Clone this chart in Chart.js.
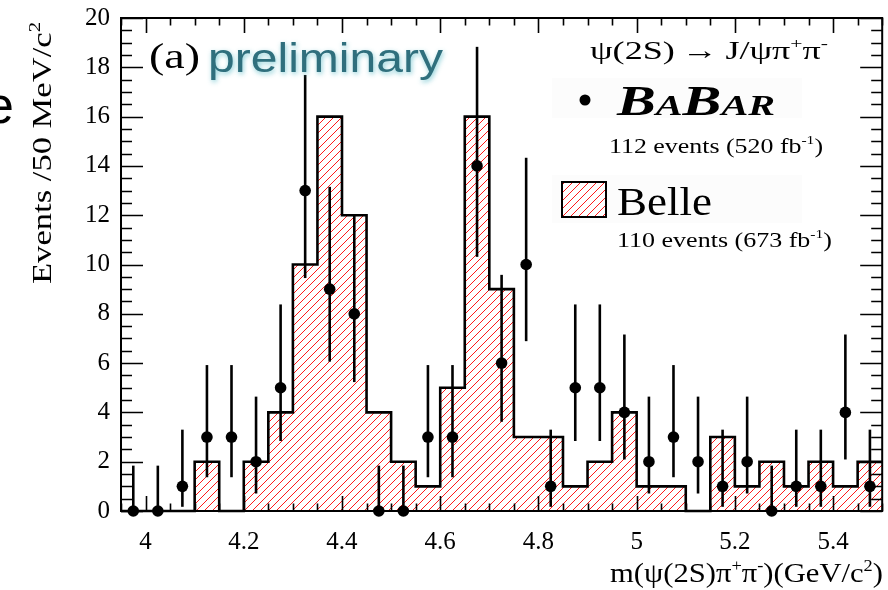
<!DOCTYPE html>
<html><head><meta charset="utf-8">
<script src="https://cdn.jsdelivr.net/npm/chart.js@4.4.1/dist/chart.umd.min.js"></script>
<style>html,body{margin:0;padding:0;background:#fff;}#c{display:block;}</style>
</head><body>
<canvas id="c" width="888" height="590"></canvas>
<script>
// ---- data ----
const binCenters = [3.975,4.025,4.075,4.125,4.175,4.225,4.275,4.325,4.375,4.425,4.475,4.525,4.575,4.625,4.675,4.725,4.775,4.825,4.875,4.925,4.975,5.025,5.075,5.125,5.175,5.225,5.275,5.325,5.375,5.425,5.475];
const binWidth = 0.05;
const belleCounts = [0,0,0,2,0,2,4,10,16,12,4,2,1,5,16,9,3,3,1,2,4,1,1,0,3,1,2,1,2,1,2];
const babarCounts = [0,0,1,3,3,2,5,13,9,8,0,0,3,3,14,6,10,1,5,5,4,2,3,2,1,2,0,1,1,4,1];
const babarErrLow = [0,0,0.17,1.37,1.37,0.71,2.84,9.45,6.06,5.23,0,0,1.37,1.37,10.31,3.62,6.89,0.17,2.84,2.84,2.09,0.71,1.37,0.71,0.17,0.71,0,0.17,0.17,2.09,0.17];
const babarErrHigh = [1.84,1.84,3.30,5.92,5.92,4.64,8.38,17.69,13.15,11.98,1.84,1.84,5.92,5.92,18.83,9.58,14.33,3.30,8.38,8.38,7.16,4.64,5.92,4.64,3.30,4.64,1.84,3.30,3.30,7.16,3.30];
const xTickValues = [4,4.2,4.4,4.6,4.8,5,5.2,5.4];
const xTickLabels = ['4','4.2','4.4','4.6','4.8','5','5.2','5.4'];
const yTickValues = [0,2,4,6,8,10,12,14,16,18,20];
const yTickLabels = ['0','2','4','6','8','10','12','14','16','18','20'];
const xRange = [3.95, 5.5];
const yRange = [0, 20];

const SERIF = '"Liberation Serif","Times New Roman",serif';
const SANS = '"Liberation Sans",Arial,sans-serif';
const HATCH_RED = '#ff1a1a';
const LEGEND_BOX = [562, 182, 44, 35];

const histPoints = binCenters.map((c,i)=>({x:c-binWidth/2, y:belleCounts[i]}));
histPoints.push({x:binCenters[binCenters.length-1]+binWidth/2, y:belleCounts[belleCounts.length-1]});
const babarPoints = binCenters.map((c,i)=>({x:c, y:babarCounts[i]}));

// diagonal red hatching inside the current clip, over a box
function hatchLines(ctx, x0, y0, x1, y1){
  const sp = 8;
  ctx.save();
  ctx.strokeStyle = HATCH_RED; ctx.lineWidth = 1;
  ctx.beginPath();
  const h = y1 - y0;
  for (let s = x0 - h - sp; s < x1 + sp; s += sp) {
    ctx.moveTo(s, y1); ctx.lineTo(s + h, y0);
  }
  ctx.stroke();
  ctx.restore();
}

// rich text: parts [[text, 'n'|'s', size?, family?], ...]
function drawRich(ctx, parts, x, y, size, style, targetW, align){
  const meas = p => { ctx.font = style + ' ' + (p[1]==='s'? size*0.6 : (p[2]||size)) + 'px ' + (p[3]||SERIF); return ctx.measureText(p[0]).width; };
  let w = 0; parts.forEach(p=> w += meas(p));
  const sx = targetW ? targetW / w : 1;
  ctx.save();
  let x0 = align==='right' ? x - w*sx : x;
  ctx.translate(x0, y); ctx.scale(sx, 1);
  let cx = 0;
  parts.forEach(p=>{
    const fs = p[1]==='s'? size*0.6 : (p[2]||size);
    ctx.font = style + ' ' + fs + 'px ' + (p[3]||SERIF);
    ctx.textAlign='left'; ctx.textBaseline='alphabetic';
    ctx.fillText(p[0], cx, p[1]==='s'? -size*0.42 : 0);
    cx += ctx.measureText(p[0]).width;
  });
  ctx.restore();
}

const frameTicks = {
  id:'frameTicks',
  beforeDatasetsDraw(chart){
    const ctx = chart.ctx;
    ctx.save();
    ctx.fillStyle = '#fcfcfc';
    ctx.fillRect(552, 78, 250, 40);
    ctx.fillRect(552, 175, 250, 48);
    ctx.fillStyle = '#fff';
    ctx.fillRect(LEGEND_BOX[0], LEGEND_BOX[1], LEGEND_BOX[2], LEGEND_BOX[3]);
    ctx.restore();
  },
  beforeDatasetDraw(chart, args){
    const {ctx, chartArea:a, scales:{x,y}} = chart;
    if (args.index === 0) {
      // hatch fill of the Belle histogram (bin by bin from the scales) and of its legend box
      ctx.save();
      ctx.beginPath();
      binCenters.forEach((c,i)=>{
        if (belleCounts[i] <= 0) return;
        const xl = x.getPixelForValue(c - binWidth/2), xr = x.getPixelForValue(c + binWidth/2);
        const yt = y.getPixelForValue(belleCounts[i]), yb = y.getPixelForValue(0);
        ctx.rect(xl, yt, xr - xl, yb - yt);
      });
      ctx.rect(LEGEND_BOX[0], LEGEND_BOX[1], LEGEND_BOX[2], LEGEND_BOX[3]);
      ctx.clip();
      hatchLines(ctx, a.left, a.top, a.right, a.bottom);
      ctx.restore();
      return;
    }
    if (args.index !== 1) return;
    ctx.save(); ctx.strokeStyle='#000'; ctx.lineWidth=2.6;
    binCenters.forEach((c,i)=>{
      const px = x.getPixelForValue(c);
      ctx.beginPath();
      ctx.moveTo(px, y.getPixelForValue(babarErrLow[i]));
      ctx.lineTo(px, y.getPixelForValue(babarErrHigh[i]));
      ctx.stroke();
    });
    ctx.restore();
  },
  afterDatasetsDraw(chart){
    const {ctx, chartArea:a, scales:{x,y}} = chart;
    ctx.save(); ctx.strokeStyle='#000';
    ctx.lineWidth = 1.6;
    ctx.beginPath();
    for (let v = 3.95; v <= 5.5001; v += 0.05){
      const px = Math.round(x.getPixelForValue(v))+0.5;
      const major = xTickValues.some(t=>Math.abs(t-v)<1e-6);
      const L = major ? 15 : 7.5;
      ctx.moveTo(px, a.bottom); ctx.lineTo(px, a.bottom-L);
      ctx.moveTo(px, a.top); ctx.lineTo(px, a.top+L);
    }
    for (let v = 0; v <= 20.001; v += 0.5){
      const py = Math.round(y.getPixelForValue(v))+0.5;
      const major = yTickValues.some(t=>Math.abs(t-v)<1e-6);
      const L = major ? 22 : 11;
      ctx.moveTo(a.left, py); ctx.lineTo(a.left+L, py);
      ctx.moveTo(a.right, py); ctx.lineTo(a.right-L, py);
    }
    ctx.stroke();
    ctx.lineWidth = 2;
    ctx.strokeRect(a.left, a.top, a.right-a.left, a.bottom-a.top);
    ctx.restore();
  },
  afterDraw(chart){
    const ctx = chart.ctx;
    ctx.save();
    ctx.fillStyle = '#000';
    // cut-off letter at the left edge
    ctx.font = '52px ' + SANS; ctx.textBaseline='alphabetic'; ctx.textAlign='left';
    ctx.fillText('e', -15, 123);
    // axis titles
    ctx.save();
    ctx.translate(51, 22); ctx.rotate(-Math.PI/2);
    drawRich(ctx, [['Events /50 MeV/c','n'],['2','s']], 0, 0, 27, '', 262, 'right');
    ctx.restore();
    drawRich(ctx, [['m(\u03C8(2S)\u03C0','n'],['+','s'],['\u03C0','n'],['-','s'],[')(GeV/c','n'],['2','s'],[')','n']], 883, 582, 27, '', 273, 'right');
    // (a) preliminary
    drawRich(ctx, [['(a)','n']], 149, 68, 36, '', 51);
    ctx.save();
    ctx.shadowColor = 'rgba(120,200,210,0.9)'; ctx.shadowBlur = 5; ctx.shadowOffsetX = 1; ctx.shadowOffsetY = 2;
    ctx.fillStyle = '#2f6f7d';
    drawRich(ctx, [['preliminary','n',41,SANS]], 208, 72, 41, '', 235);
    ctx.restore();
    // legend texts
    ctx.fillStyle = '#000';
    drawRich(ctx, [['\u03C8(2S)\u2009\u2192\u2009J/\u03C8\u03C0','n'],['+','s'],['\u03C0','n'],['-','s']], 590, 59, 26, '', 238);
    ctx.beginPath(); ctx.arc(585, 100, 5.5, 0, Math.PI*2); ctx.fill();
    drawRich(ctx, [['B','n',42],['A','n',29],['B','n',42],['AR','n',29]], 617, 115, 42, 'italic bold', 158);
    drawRich(ctx, [['112 events (520 fb','n'],['-1','s'],[')','n']], 609, 153, 22, '', 214);
    ctx.lineWidth = 2; ctx.strokeStyle='#000';
    ctx.strokeRect(LEGEND_BOX[0], LEGEND_BOX[1], LEGEND_BOX[2], LEGEND_BOX[3]);
    drawRich(ctx, [['Belle','n']], 617, 215, 40, '', 95);
    drawRich(ctx, [['110 events (673 fb','n'],['-1','s'],[')','n']], 617, 247, 22, '', 215);
    ctx.restore();
  }
};

new Chart(document.getElementById('c'), {
  type: 'scatter',
  data: { datasets: [
    { type:'line', label:'Belle', data: histPoints, stepped:'before', borderColor:'#000', borderWidth:2.6,
      backgroundColor:'rgba(0,0,0,0)', fill:false, pointRadius:0, order:2, clip:4 },
    { type:'scatter', label:'BaBar', data: babarPoints, pointRadius:5.8, pointHoverRadius:5.8,
      backgroundColor:'#000', borderColor:'#000', borderWidth:0, order:1, clip:8 }
  ]},
  options: {
    responsive:false, animation:false, devicePixelRatio:1,
    layout:{ padding:{ left:0, right:5, top:18, bottom:0 } },
    plugins:{ legend:{display:false}, tooltip:{enabled:false} },
    events: [],
    scales:{
      x:{ type:'linear', min:xRange[0], max:xRange[1],
        grid:{display:false}, border:{display:false},
        afterFit: s => { s.height = 79; },
        afterBuildTicks: s => { s.ticks = xTickValues.map(v=>({value:v})); },
        ticks:{ autoSkip:false, maxRotation:0, padding:8, color:'#000',
          font:{family:SERIF, size:25},
          callback:(v)=>{ const i = xTickValues.findIndex(t=>Math.abs(t-v)<1e-6); return i>=0 ? xTickLabels[i] : ''; } } },
      y:{ type:'linear', min:yRange[0], max:yRange[1],
        grid:{display:false}, border:{display:false},
        afterFit: s => { s.width = 121; },
        afterBuildTicks: s => { s.ticks = yTickValues.map(v=>({value:v})); },
        ticks:{ padding:3, color:'#000', font:{family:SERIF, size:25},
          callback:(v)=>{ const i = yTickValues.indexOf(v); return i>=0 ? yTickLabels[i] : ''; } } }
    }
  },
  plugins:[frameTicks]
});
</script>
</body></html>
